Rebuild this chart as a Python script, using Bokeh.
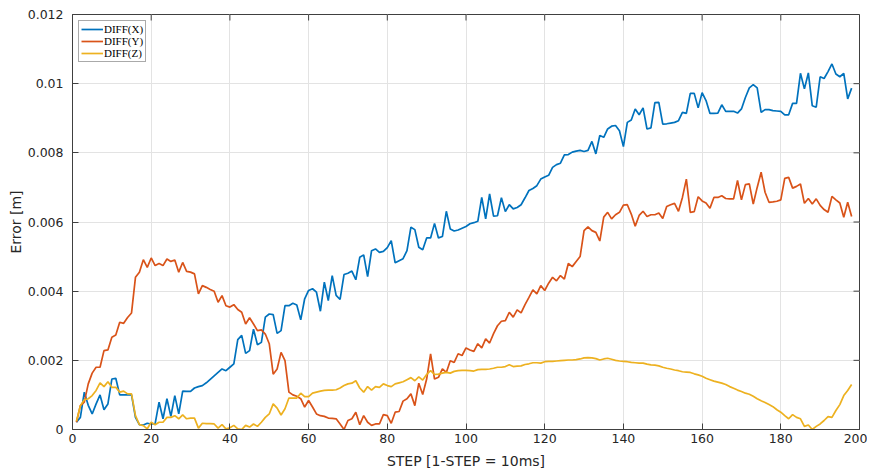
import math
from bokeh.plotting import figure
from bokeh.models import Range1d, CustomJSTickFormatter, FixedTicker, Legend, LegendItem
from bokeh.embed import file_html
from bokeh.resources import INLINE

steps = list(range(1, 199))

# values in millimetres, converted to metres below
diff_x_mm = [
    0.21, 0.35, 1.08, 0.70, 0.45, 0.74, 1.00, 0.57, 0.74, 1.46,
    1.48, 1.00, 1.00, 1.00, 1.00, 0.35, 0.14, 0.13, 0.18, 0.16,
    0.17, 0.79, 0.31, 0.89, 0.38, 0.98, 0.45, 1.11, 1.10, 1.10,
    1.20, 1.24, 1.27, 1.35, 1.45, 1.55, 1.65, 1.75, 1.70, 1.80,
    1.90, 2.60, 2.72, 2.20, 2.28, 2.90, 2.45, 2.52, 3.25, 3.34,
    3.32, 2.78, 2.86, 3.58, 3.58, 3.65, 3.60, 3.17, 3.78, 4.02,
    4.07, 3.97, 3.42, 4.26, 3.73, 4.45, 3.88, 3.76, 4.48, 4.52,
    4.58, 4.33, 4.98, 5.05, 4.42, 5.17, 5.22, 5.12, 5.15, 5.26,
    5.46, 4.82, 4.88, 4.94, 5.17, 5.85, 5.78, 5.27, 5.20, 5.54,
    5.54, 5.96, 5.54, 5.58, 6.31, 5.80, 5.74, 5.77, 5.82, 5.87,
    5.95, 5.98, 6.02, 6.71, 6.09, 6.81, 6.17, 6.18, 6.70, 6.30,
    6.50, 6.38, 6.42, 6.50, 6.70, 6.91, 6.97, 7.05, 7.24, 7.30,
    7.35, 7.58, 7.66, 7.70, 7.94, 7.95, 8.02, 8.05, 8.07, 8.04,
    8.07, 8.33, 7.97, 8.50, 8.45, 8.69, 8.77, 8.79, 8.64, 8.18,
    8.88, 8.95, 9.27, 9.10, 9.30, 8.69, 8.72, 9.45, 9.46, 8.83,
    8.84, 8.86, 8.88, 8.93, 9.17, 9.14, 9.72, 9.72, 9.30, 9.74,
    9.51, 9.14, 9.14, 9.15, 9.39, 9.20, 9.20, 9.20, 9.15, 9.27,
    9.60, 9.88, 9.97, 9.88, 9.17, 9.25, 9.25, 9.22, 9.21, 9.20,
    9.10, 9.10, 9.43, 9.43, 10.30, 9.85, 10.31, 9.36, 9.32, 10.20,
    10.15, 10.35, 10.57, 10.28, 10.20, 10.30, 9.56, 9.87,
]

diff_y_mm = [
    0.21, 0.69, 0.79, 1.32, 1.63, 1.80, 1.80, 2.28, 2.30, 2.67,
    2.73, 3.10, 3.07, 3.24, 3.37, 4.40, 4.55, 4.91, 4.69, 4.96,
    4.74, 4.80, 4.74, 4.93, 4.86, 4.90, 4.55, 4.83, 4.57, 4.55,
    4.50, 3.92, 4.16, 4.11, 4.05, 4.00, 3.68, 3.87, 3.58, 3.54,
    3.61, 3.47, 3.39, 3.05, 3.23, 3.05, 2.86, 2.88, 2.76, 2.48,
    1.60, 1.75, 2.23, 1.99, 1.08, 1.00, 0.96, 0.89, 0.65, 0.84,
    0.65, 0.45, 0.40, 0.38, 0.33, 0.32, 0.31, 0.16, 0.00, 0.26,
    0.31, 0.50, 0.14, 0.40, 0.21, 0.12, 0.16, 0.16, 0.43, 0.40,
    0.18, 0.50, 0.52, 0.82, 0.89, 1.03, 0.69, 1.34, 1.01, 1.46,
    2.19, 1.46, 1.51, 1.75, 1.65, 1.99, 1.94, 2.19, 2.14, 2.36,
    2.30, 2.26, 2.48, 2.36, 2.62, 2.50, 2.77, 3.00, 3.13, 3.15,
    3.39, 3.25, 3.46, 3.37, 3.61, 3.82, 4.04, 3.92, 4.16, 4.02,
    4.23, 4.40, 4.30, 4.45, 4.35, 4.80, 4.71, 4.86, 5.00, 5.75,
    5.86, 5.75, 5.70, 5.45, 6.14, 6.28, 6.09, 6.21, 6.28, 6.49,
    6.50, 6.23, 5.88, 6.19, 6.31, 6.16, 6.21, 6.21, 6.26, 6.10,
    6.45, 6.50, 6.54, 6.31, 6.71, 7.24, 6.28, 6.30, 6.73, 6.61,
    6.55, 6.40, 6.71, 6.71, 6.76, 6.68, 6.67, 6.67, 7.20, 6.64,
    7.08, 7.10, 6.52, 7.00, 7.44, 6.86, 6.57, 6.58, 6.60, 6.64,
    7.26, 7.29, 6.98, 7.03, 7.10, 6.54, 6.68, 6.52, 6.67, 6.48,
    6.36, 6.28, 6.74, 6.64, 6.55, 6.14, 6.57, 6.16,
]

diff_z_mm = [
    0.24, 0.69, 0.86, 0.89, 0.98, 1.13, 1.35, 1.24, 1.38, 1.22,
    1.22, 1.08, 1.11, 1.03, 1.03, 0.40, 0.14, 0.11, 0.02, 0.21,
    0.14, 0.21, 0.21, 0.35, 0.35, 0.40, 0.31, 0.42, 0.31, 0.33,
    0.33, 0.04, 0.18, 0.17, 0.17, 0.16, 0.04, 0.14, 0.02, 0.05,
    0.12, 0.02, 0.00, 0.12, 0.07, 0.16, 0.09, 0.21, 0.35, 0.45,
    0.74, 0.62, 0.42, 0.60, 0.91, 0.91, 0.91, 1.05, 0.95, 0.95,
    1.05, 1.08, 1.11, 1.13, 1.14, 1.14, 1.15, 1.20, 1.27, 1.32,
    1.34, 1.41, 1.20, 1.08, 1.24, 1.14, 1.24, 1.22, 1.32, 1.27,
    1.24, 1.32, 1.35, 1.38, 1.44, 1.50, 1.41, 1.52, 1.43, 1.59,
    1.70, 1.59, 1.60, 1.63, 1.65, 1.63, 1.68, 1.70, 1.71, 1.71,
    1.70, 1.69, 1.73, 1.74, 1.74, 1.75, 1.77, 1.80, 1.80, 1.82,
    1.87, 1.82, 1.83, 1.84, 1.88, 1.90, 1.93, 1.93, 1.92, 1.96,
    1.97, 1.97, 1.98, 1.99, 2.00, 2.01, 2.01, 2.02, 2.04, 2.07,
    2.08, 2.07, 2.05, 2.01, 2.04, 2.06, 2.03, 2.00, 1.98, 1.97,
    1.96, 1.94, 1.93, 1.92, 1.92, 1.89, 1.87, 1.86, 1.84, 1.80,
    1.77, 1.75, 1.72, 1.70, 1.67, 1.66, 1.65, 1.61, 1.58, 1.54,
    1.48, 1.44, 1.40, 1.37, 1.34, 1.30, 1.24, 1.19, 1.14, 1.10,
    1.05, 1.02, 0.96, 0.89, 0.83, 0.78, 0.72, 0.66, 0.57, 0.50,
    0.40, 0.31, 0.43, 0.35, 0.31, 0.09, 0.13, 0.00, 0.09, 0.16,
    0.26, 0.37, 0.35, 0.55, 0.72, 0.98, 1.13, 1.30,
]

series_names = ["DIFF(X)", "DIFF(Y)", "DIFF(Z)"]
series_colors = ["#0072BD", "#D95319", "#EDB120"]

x_ticks = [0, 20, 40, 60, 80, 100, 120, 140, 160, 180, 200]
y_ticks = [0, 0.002, 0.004, 0.006, 0.008, 0.010, 0.012]
x_min, x_max = 0, 200
y_min, y_max = 0, 0.012

MM = 1e-3
diff_x = [v * MM for v in diff_x_mm]
diff_y = [v * MM for v in diff_y_mm]
diff_z = [v * MM for v in diff_z_mm]

FONT = "DejaVu Sans"
AXC = "#404040"
TXT = "#262626"

p = figure(frame_width=787, frame_height=415, output_backend="svg", toolbar_location=None,
           x_range=Range1d(x_min, x_max), y_range=Range1d(y_min, y_max),
           min_border_left=72, min_border_right=8, min_border_top=14, min_border_bottom=42)
p.background_fill_color = "white"
p.outline_line_color = AXC
p.outline_line_width = 1

renderers = []
for ys, c in zip([diff_x, diff_y, diff_z], series_colors):
    r = p.line(steps, ys, line_color=c, line_width=1.7)
    renderers.append(r)

# inward ticks on the top and right edges of the box
p.ray(x=x_ticks, y=[y_max] * len(x_ticks), length=6, length_units="screen",
      angle=-math.pi / 2, line_color=AXC, line_width=1)
p.ray(x=[x_max] * len(y_ticks), y=y_ticks, length=6, length_units="screen",
      angle=math.pi, line_color=AXC, line_width=1)

fmt = CustomJSTickFormatter(code="""
var s = tick.toFixed(3);
s = s.replace(/0+$/, '').replace(/\\.$/, '');
return s;
""")

for ax in [p.xaxis[0], p.yaxis[0]]:
    ax.axis_line_color = AXC
    ax.major_tick_line_color = AXC
    ax.major_tick_in = 6
    ax.major_tick_out = 0
    ax.minor_tick_line_color = None
    ax.major_label_text_font = FONT
    ax.major_label_text_font_size = "12.5px"
    ax.major_label_text_color = TXT
    ax.axis_label_text_font = FONT
    ax.axis_label_text_font_size = "14px"
    ax.axis_label_text_font_style = "normal"
    ax.axis_label_text_color = TXT

p.xaxis[0].ticker = FixedTicker(ticks=x_ticks)
p.yaxis[0].ticker = FixedTicker(ticks=y_ticks)
p.yaxis[0].formatter = fmt
p.xaxis[0].axis_label = "STEP [1-STEP = 10ms]"
p.yaxis[0].axis_label = "Error [m]"
p.xaxis[0].major_label_standoff = 4
p.yaxis[0].major_label_standoff = 9
p.xaxis[0].axis_label_standoff = 7
p.yaxis[0].axis_label_standoff = 1

p.xgrid.ticker = FixedTicker(ticks=x_ticks)
p.ygrid.ticker = FixedTicker(ticks=y_ticks)
p.xgrid.grid_line_color = "#e3e3e3"
p.ygrid.grid_line_color = "#e3e3e3"

legend = Legend(items=[LegendItem(label=n, renderers=[r]) for n, r in zip(series_names, renderers)],
                location="top_left")
legend.label_text_font = "Liberation Serif"
legend.label_text_font_size = "11px"
legend.label_text_color = "#000000"
legend.glyph_width = 22
legend.glyph_height = 12
legend.label_height = 12
legend.label_standoff = 1
legend.spacing = 0
legend.padding = 2
legend.margin = 6
legend.border_line_color = "#555555"
legend.border_line_width = 1
legend.background_fill_color = "white"
p.add_layout(legend)

open("out.html", "w").write(file_html(p, INLINE))
